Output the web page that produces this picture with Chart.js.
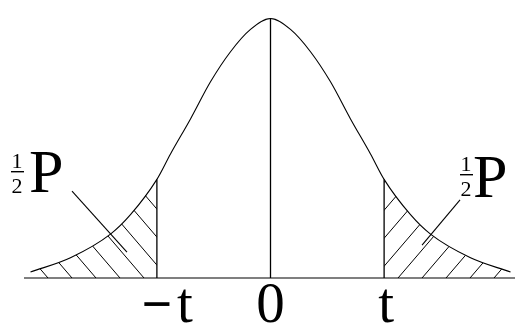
<!DOCTYPE html>
<html>
<head>
<meta charset="utf-8">
<script src="https://cdn.jsdelivr.net/npm/chart.js@4.4.1/dist/chart.umd.min.js"></script>
<style>
  html,body{margin:0;padding:0;background:#fff;}
  #wrap{width:515px;height:324px;position:relative;}
</style>
</head>
<body>
<div id="wrap"><canvas id="c" width="515" height="324"></canvas></div>
<script>
// ---- data (x in "t units", y relative to peak height) ----
const T = 1.42;
const curveX = [-3.0, -2.5, -2.0, -1.75, -1.42, -1.25, -1.0, -0.75, -0.5, -0.25, 0, 0.25, 0.5, 0.75, 1.0, 1.25, 1.42, 1.75, 2.0, 2.5, 3.0];
const curveY = [0.023, 0.078, 0.169, 0.244, 0.38, 0.478, 0.613, 0.756, 0.872, 0.958, 1.0, 0.958, 0.872, 0.756, 0.613, 0.478, 0.38, 0.244, 0.169, 0.078, 0.023];
const tickValues = [-T, 0, T];
const tickLabels = ['−t', '0', 't'];
const leftLeaderX = [-2.481, -1.794];
const leftLeaderY = [0.335, 0.100];
const rightLeaderX = [2.369, 1.894];
const rightLeaderY = [0.301, 0.127];
const xMin = -3.081, xMax = 3.056, yMax = 1.0713;

const pts = (xs, ys) => xs.map((x, i) => ({x, y: ys[i]}));
const curve = pts(curveX, curveY);
const leftTail = curve.filter(p => p.x <= -T + 1e-9);
const rightTail = curve.filter(p => p.x >= T - 1e-9);
const yAt = v => curveY[curveX.indexOf(v)];

const canvas = document.getElementById('c');
const ctx0 = canvas.getContext('2d');
function hatch(dir, off) {
  const c = document.createElement('canvas');
  c.width = 24; c.height = 28;
  const g = c.getContext('2d');
  g.strokeStyle = '#000'; g.lineWidth = 1;
  for (const k of [-24, 0, 24]) {
    g.beginPath();
    g.moveTo(off + k, 0);
    g.lineTo(off + k + dir * 24, 28);
    g.stroke();
  }
  return ctx0.createPattern(c, 'repeat');
}
const leftPat = hatch(1, 1.7);
const rightPat = hatch(-1, 12.3);

const lineDs = (data, w) => ({data, borderColor: '#000', borderWidth: w, pointRadius: 0, fill: false, tension: 0, clip: false});

const SERIF = '"Liberation Serif", "DejaVu Serif", serif';

const labelPlugin = {
  id: 'labels',
  afterDraw(chart) {
    const ctx = chart.ctx, xs = chart.scales.x;
    ctx.save();
    ctx.fillStyle = '#000';
    ctx.textBaseline = 'alphabetic';
    ctx.textAlign = 'center';
    const px = tickValues.map(v => xs.getPixelForValue(v));
    // "−t": heavy minus + t
    ctx.font = 'bold 54px ' + SERIF;
    ctx.textBaseline = 'middle';
    ctx.fillText(tickLabels[0].charAt(0), px[0], 308);
    ctx.textBaseline = 'alphabetic';
    ctx.font = '57px ' + SERIF;
    ctx.fillText(tickLabels[0].slice(1), px[0] + 28, 322);
    ctx.fillText(tickLabels[1], px[1], 322);
    ctx.fillText(tickLabels[2], px[2] + 2, 322);
    // ½P labels
    function halfP(fx, fy, barL, barR, pxLeft, pBase) {
      ctx.font = '22px ' + SERIF;
      ctx.textAlign = 'center';
      ctx.fillText('1', fx, fy);
      ctx.fillText('2', fx, fy + 25);
      ctx.fillRect(barL, fy + 3, barR - barL, 1.4);
      ctx.font = '62px ' + SERIF;
      ctx.textAlign = 'left';
      ctx.fillText('P', pxLeft, pBase);
    }
    halfP(17, 168, 11, 24, 29, 192);
    halfP(466, 171, 460, 473, 473, 197);
    ctx.restore();
  }
};

new Chart(canvas, {
  type: 'line',
  data: {
    datasets: [
      Object.assign(lineDs(leftTail, 0), {fill: 'origin', backgroundColor: leftPat, cubicInterpolationMode: 'monotone'}),
      Object.assign(lineDs(rightTail, 0), {fill: 'origin', backgroundColor: rightPat, cubicInterpolationMode: 'monotone'}),
      Object.assign(lineDs(curve, 1.1), {cubicInterpolationMode: 'monotone'}),
      lineDs([{x: xMin, y: 0}, {x: xMax, y: 0}], 1.2),
      lineDs([{x: -T, y: 0}, {x: -T, y: yAt(-T)}], 1.3),
      lineDs([{x: 0, y: 0}, {x: 0, y: yAt(0)}], 1.3),
      lineDs([{x: T, y: 0}, {x: T, y: yAt(T)}], 1.3),
      lineDs(pts(leftLeaderX, leftLeaderY), 1.1),
      lineDs(pts(rightLeaderX, rightLeaderY), 1.1)
    ]
  },
  options: {
    responsive: false,
    animation: false,
    layout: {padding: {left: 24, right: 0, top: 0, bottom: 46}},
    plugins: {legend: {display: false}, tooltip: {enabled: false}},
    scales: {
      x: {type: 'linear', min: xMin, max: xMax, display: false},
      y: {min: 0, max: yMax, display: false}
    }
  },
  plugins: [labelPlugin]
});
</script>
</body>
</html>
